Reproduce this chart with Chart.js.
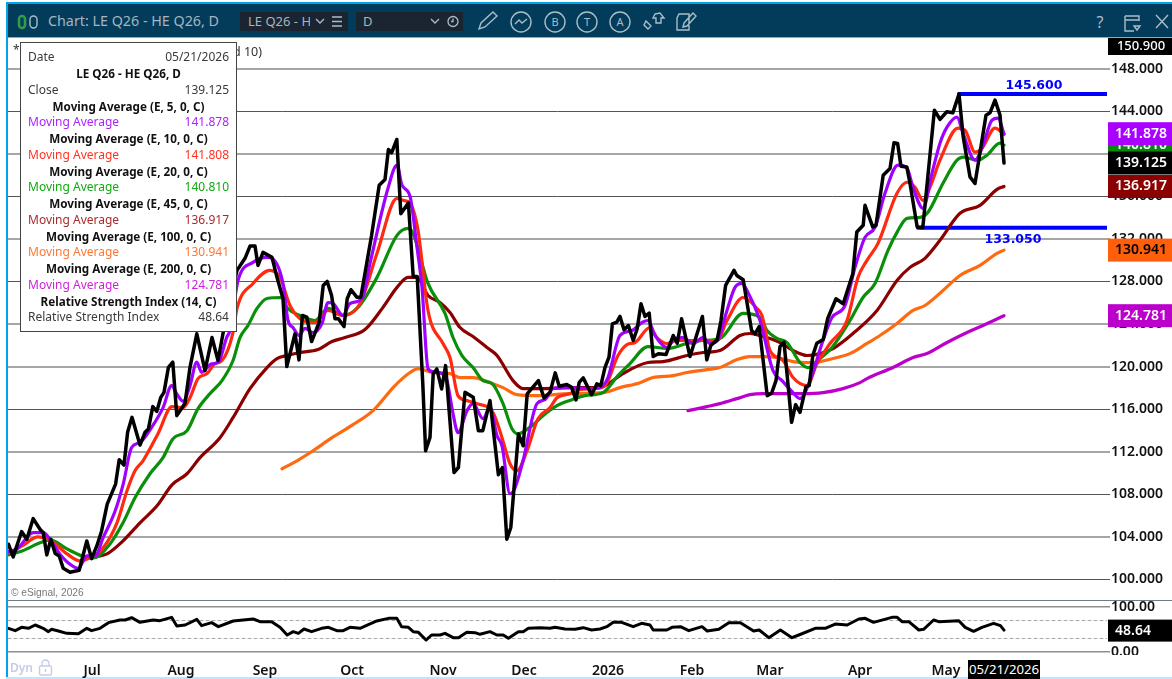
<!DOCTYPE html>
<html>
<head>
<meta charset="utf-8">
<title>LE Q26 - HE Q26, D</title>
<script src="https://cdn.jsdelivr.net/npm/chart.js"></script>
<style>
html, body { margin: 0; padding: 0; width: 1172px; height: 679px; overflow: hidden; background: #fff; font-family: "Noto Sans", sans-serif; }
div, canvas, svg { position: absolute; }
#topline { left: 6px; top: 2px; width: 1166px; height: 2px; background: #00a2e8; }
#leftline { left: 6px; top: 2px; width: 2px; height: 677px; background: #00a2e8; }
#bottomline { left: 6px; top: 677px; width: 1166px; height: 2px; background: #bfe6fa; }
#header { left: 8px; top: 4px; width: 1164px; height: 33px; background: #023c5a; }
#headline { left: 8px; top: 37px; width: 1164px; height: 1px; background: #a0a4a8; }
#title { left: 48px; top: 11px; font-size: 14.3px; line-height: 20px; color: #a6b5c0; white-space: nowrap; }
.drop { top: 12px; height: 19px; background: #1b2531; color: #a6b5c0; font-size: 13px; line-height: 19px; white-space: nowrap; overflow: hidden; }
#main { left: 8px; top: 38px; }
#rsi { left: 8px; top: 595px; }
#sep { left: 8px; top: 600px; width: 1164px; height: 1px; background: #6f7a86; }
#zeroCover { left: 1108px; top: 655px; width: 64px; height: 6px; background: #fff; }
#star { left: 13px; top: 42px; font-size: 12px; line-height: 16px; color: #333; }
#study { right: 910px; top: 44px; font-size: 12.5px; line-height: 16px; color: #333; white-space: nowrap; }
#box { left: 20px; top: 42px; width: 215px; height: 288px; background: #fff; border: 1px solid #444; }
.row { left: 7px; width: 201px; height: 16px; font-size: 12px; line-height: 16px; color: #3a3a3a; white-space: nowrap; }
.row b { position: absolute; left: 0; width: 100%; text-align: center; color: #111; font-weight: 700; font-size: 11.7px; }
.row span { position: absolute; left: 0; }
.row i { position: absolute; right: 0; font-style: normal; }
#esig { left: 11px; top: 586px; font-family: "Liberation Sans", sans-serif; font-size: 10.2px; line-height: 14px; color: #777; white-space: nowrap; }
#dyn { left: 10px; top: 660px; font-size: 12px; line-height: 16px; font-weight: 600; color: #c6cce8; }
#dateTag { left: 968px; top: 660px; width: 72px; height: 19px; background: #000; color: #fff; font-size: 13.2px; line-height: 19px; text-align: center; white-space: nowrap; }
</style>
</head>
<body>
<div id="header"></div>
<div id="headline"></div>
<div id="topline"></div>
<div id="leftline"></div>
<div id="bottomline"></div>
<svg style="left:0;top:0" width="1172" height="38" fill="none" stroke="#a9bdc9" stroke-width="1.4">
  <rect x="19" y="16" width="6" height="12" rx="3" stroke="#2f9e44" stroke-width="2.500"/>
  <rect x="30" y="16" width="7" height="12" rx="3.500"/>
  <path d="M479 29l2-6 12-11 4 4-12 11z"/>
  <circle cx="521" cy="22" r="10"/><path d="M515 24l4-4 3 3 5-4"/>
  <circle cx="555" cy="22" r="10"/><circle cx="587" cy="22" r="10"/><circle cx="620" cy="22" r="10"/>
  <path d="M646 21l5 5-3 3-4-4zM655 14l5-1 4 5-3 0 0 5-5 0 0-5-3 0z"/>
  <path d="M679 14h6l4 0v16h-12v-12zM684 23l9-10 3 3-9 10-4 1z"/>
  <path d="M1125 16h14v5M1125 16v15h9M1125 20h14M1134 26h6l-3 4z"/>
  <path d="M1156 15l12 13M1168 15l-12 13"/>
</svg>
<svg style="left:0;top:0" width="1172" height="38" fill="#a9bdc9" font-family="Noto Sans" font-size="11">
  <text x="555" y="26" text-anchor="middle">B</text>
  <text x="587" y="26" text-anchor="middle">T</text>
  <text x="620" y="26" text-anchor="middle">A</text>
  <text x="1100" y="28" text-anchor="middle" font-size="16">?</text>
</svg>
<div id="title">Chart: LE Q26 - HE Q26, D</div>
<div class="drop" style="left:240px;width:70px;padding-left:8px">LE Q26 - HE</div>
<div class="drop" style="left:310px;width:38px"></div>
<div class="drop" style="left:356px;width:100px;padding-left:7px">D</div>
<svg style="left:0;top:0;z-index:2" width="1172" height="38" fill="none" stroke="#a9bdc9" stroke-width="1.3">
  <path d="M316 19l4 4 4-4M431 19l4 4 4-4M332 17h10M332 21.500h10M332 26h10"/>
  <circle cx="453" cy="21.500" r="5"/><path d="M453 18.500v3h-2"/>
</svg>

<canvas id="main" width="1164" height="563"></canvas>
<canvas id="rsi" width="1164" height="84"></canvas>
<div id="sep"></div>
<div id="zeroCover"></div>
<div id="star">*</div>
<div id="study">Period 10)</div>
<div id="box"></div>
<div id="esig">© eSignal, 2026</div>
<div id="dyn">Dyn</div>
<svg style="left:38px;top:659px" width="15" height="18" fill="none" stroke="#c6cce8" stroke-width="1.4">
  <rect x="1.500" y="7" width="12" height="9" rx="1.500"/><path d="M4 7V4.500a3.500 3.500 0 0 1 7 0V7M7.500 10v3"/>
</svg>
<div id="dateTag">05/21/2026</div>

<script>
var yTicks = [148, 144, 140, 136, 132, 128, 124, 120, 116, 112, 108, 104, 100];
var darkTicks = [144, 136, 128, 116, 108, 100];
var rsiTicks = [100, 0];
var rsiLevels = [70, 30];
var monthBars = [21, 43.25, 64.25, 86, 108.75, 129, 150, 171, 190.5, 213, 234.5];
var monthLabels = ["Jul", "Aug", "Sep", "Oct", "Nov", "Dec", "2026", "Feb", "Mar", "Apr", "May"];

var closeBars = [0.1, 1.3, 3.4, 4.7, 6.3, 8, 8.8, 9.7, 10.7, 11.8, 12.8, 13.8, 15.5, 17.8, 19.7, 20.9, 22.2, 23.4, 24.8, 26.9, 27.8, 29, 29.9, 31, 33, 34.25, 35.1, 36.2, 37.2, 38.2, 39, 40.1, 41.2, 42.2, 44.25, 45.5, 47.2, 49.25, 51, 52.5, 53.75, 55.5, 57.25, 59.25, 60.5, 61.75, 62.5, 63.75, 66, 67.25, 68.75, 69.7, 71.75, 72.75, 73.6, 74.7, 75.9, 77.8, 78.8, 79.8, 80.9, 81.75, 82.6, 84, 84.8, 85.75, 87.2, 88.2, 90.9, 92.8, 94.25, 95.1, 95.9, 97.2, 98.2, 100.1, 101.3, 102.3, 103.7, 104.4, 105.5, 106.3, 107.2, 108.4, 109.4, 111.5, 112.6, 114.25, 116.3, 117.6, 118.7, 120.5, 122.6, 123.6, 124.7, 125.7, 127.6, 128.8, 129.8, 132.6, 134, 135.5, 136.8, 137.8, 139.7, 140.9, 142, 142.8, 143.8, 145.9, 147.2, 148.2, 149.25, 150.25, 151.1, 152.2, 153, 154, 155.1, 156.3, 157.3, 158.25, 159.25, 160.3, 161.3, 162.6, 164.5, 166.3, 167.3, 168.4, 170.5, 173.6, 174.7, 175.7, 177.3, 178.25, 179.4, 181.5, 182.2, 183.8, 185.9, 186.75, 187.8, 189.8, 190.9, 192, 193, 194, 195.9, 196.9, 198, 199.5, 200.3, 201.2, 202.2, 203.8, 204.9, 207, 208.8, 211.2, 212.2, 213.8, 214.25, 216.2, 217, 218.8, 220.5, 221.5, 222.4, 223.25, 224.7, 225.5, 227.3, 228.7, 231.6, 233, 234.7, 236.2, 237.75, 238.8, 240.5, 241.75, 244.5, 245.5, 246.75, 248, 249];
var closeVals = [103.31, 102.12, 104.5, 103.78, 105.72, 104.72, 104.4, 102.31, 103.78, 102.43, 102.21, 101.05, 100.68, 100.87, 103.62, 101.96, 103.15, 104.56, 107.08, 108.96, 111.25, 110.75, 113.82, 115.23, 112.63, 113.82, 114.14, 116.24, 115.79, 117.11, 117.58, 119.93, 120.41, 115.39, 116.55, 119.93, 123.08, 119.62, 122.73, 120.57, 123.11, 126.2, 129.04, 130.17, 131.32, 131.32, 129.5, 130.73, 130.26, 128.38, 126.37, 120, 123.08, 120.63, 124.8, 124.64, 122.35, 124.17, 127.62, 128, 126.68, 124.49, 124.49, 123.76, 126.37, 127.22, 126.52, 126.52, 132.33, 137.04, 137.57, 140.4, 140.08, 141.34, 134.37, 135.37, 128.47, 128.47, 118.37, 112.09, 113.35, 119.31, 119.78, 117.9, 120.09, 110.05, 110.52, 117.58, 117.11, 113.98, 113.98, 116.8, 109.84, 110.52, 103.78, 104.88, 113.67, 112.56, 117.43, 118.68, 117.05, 117.58, 119.41, 118.15, 118.31, 118.05, 116.87, 118.52, 118.94, 117.36, 118.37, 118.21, 119.93, 120.88, 124.02, 124.17, 124.71, 123.45, 123.86, 122.45, 123.55, 125.9, 124.71, 125.02, 120.94, 121.2, 121.13, 122.92, 122.19, 124.49, 120.94, 124.71, 120.63, 121.98, 122.51, 124.33, 127.62, 129.04, 128.56, 128.16, 123.39, 123.08, 123.76, 117.27, 117.49, 118.68, 121.88, 122.29, 114.76, 116.42, 115.7, 118.12, 118.21, 121.04, 122.19, 122.54, 124.49, 126.37, 125.9, 128.72, 132.64, 133.27, 135.15, 133.11, 133.27, 137.98, 138.61, 141.02, 140.96, 138.82, 138.76, 137.2, 133.11, 133.05, 144.09, 143.22, 143.94, 143.84, 145.6, 141.58, 137.82, 137.2, 143.62, 143.84, 145.04, 143.62, 139.125];

var ma5Bars = [0.1, 2.2, 6.3, 8.8, 10.5, 13, 15, 17.6, 19.7, 21.8, 23.8, 26.8, 28.8, 30.9, 33, 35.9, 38.8, 40.9, 42.2, 43.8, 45.5, 47.2, 48.4, 50.9, 52.6, 54.7, 55.5, 57.5, 61.25, 64.75, 66, 68.75, 70, 71.25, 72.75, 74.25, 76.25, 78.5, 80, 81.25, 83.75, 85.5, 88.5, 90.5, 95, 97.25, 98.5, 100.5, 102.25, 103.5, 105, 106.25, 108.5, 109.75, 111.25, 112.5, 114.75, 116.25, 118.75, 120.5, 122.25, 123.5, 125.5, 126.75, 128.75, 132.25, 134.25, 136.25, 139.75, 146.25, 148.75, 150, 153, 156, 158.5, 160, 161.75, 164.75, 166.75, 168.75, 171.25, 173.75, 175.5, 177.5, 179.75, 181.75, 183.5, 184.75, 188, 191.25, 193.5, 196.25, 198, 200.5, 203.75, 206, 209.25, 211.75, 214.25, 216.75, 219.25, 222.5, 224.75, 226.25, 228.75, 231, 233, 234.75, 237.25, 238.75, 241.75, 243.5, 246, 247.5, 249];
var ma5Vals = [102.62, 102.84, 104.4, 104.4, 103.78, 102.37, 101.58, 101.05, 102.21, 102.21, 103.93, 106.45, 108.96, 112.4, 112.88, 114.29, 116.17, 118.21, 117.43, 116.73, 118.21, 120.41, 119.46, 120.25, 120.41, 122.76, 123.39, 128.09, 129.79, 130.26, 130.17, 127.81, 124.33, 123.67, 122.92, 123.58, 123.2, 124.05, 126.02, 125.93, 124.8, 125.93, 126.4, 129.69, 136.75, 138.92, 137.04, 136, 131.2, 127.44, 119.81, 119.53, 119.34, 118.68, 115.58, 113.79, 115.86, 116.52, 115.11, 116.14, 113.51, 112.56, 108.05, 108.61, 111.15, 116.52, 116.89, 117.93, 118.02, 117.93, 118.21, 118.97, 122.92, 123.39, 124.14, 124.33, 122.92, 121.79, 122.64, 122.73, 122.17, 122.73, 122.17, 122.54, 125.27, 127.44, 127.81, 127.15, 124.33, 119.62, 118.68, 117.55, 116.99, 118.68, 122.45, 124.61, 125.74, 129.32, 132.14, 133.08, 136.28, 138.92, 138.64, 136.85, 134.87, 138.17, 140.99, 142.49, 143.44, 141.93, 139.39, 140.52, 143.15, 143.34, 141.878];

var ma10Bars = [0, 3.5, 7.5, 10.5, 14.75, 18, 20.5, 23.75, 27.25, 29.75, 31.75, 33.75, 37.5, 41, 43.75, 45.5, 47.5, 49.75, 51.75, 53.5, 56.25, 57.25, 61.25, 65.5, 68, 70.5, 73.75, 76.75, 80, 83.75, 88, 92.25, 97.25, 98.75, 100.5, 102.5, 105, 108.75, 110.5, 112.5, 114.75, 117.25, 121.25, 123.5, 125.5, 127.25, 129.75, 132.5, 135.5, 137.25, 140.5, 141.75, 146.25, 149.25, 152.5, 154.75, 156.75, 160.5, 162.25, 164.75, 167.25, 170.5, 173.75, 177.25, 179.75, 183.75, 187.25, 188.5, 190.5, 193.75, 196.25, 199.75, 202.25, 205.5, 209.75, 212.5, 214.75, 217.5, 222.25, 224.75, 226.75, 228.75, 230.5, 233, 237.5, 239.25, 241.75, 243.5, 246.75, 249];
var ma10Vals = [102.49, 103.15, 104, 103.72, 102.4, 101.74, 102.02, 102.96, 105.32, 108.33, 110.21, 111.15, 113.69, 116.24, 116.14, 117.08, 118.87, 119.34, 120.28, 120.57, 123.2, 125.46, 127.81, 129.04, 128.38, 125.74, 124.33, 124.14, 125.27, 124.8, 125.93, 130.64, 135.81, 135.62, 135.34, 132.8, 125.27, 122.17, 120.85, 117.27, 116.8, 116.52, 115.67, 113.32, 110.87, 110.21, 112.09, 115.11, 116.14, 117.08, 117.46, 117.74, 117.93, 118.21, 121.04, 122.07, 122.26, 123.67, 122.73, 122.17, 122.45, 122.45, 122.45, 122.45, 124.33, 126.49, 125.46, 124.8, 121.51, 120.57, 118.97, 118.21, 120.28, 122.17, 124.33, 128.38, 129.98, 131.58, 136.28, 137.32, 136.85, 135.62, 136.85, 139.39, 142.4, 142.21, 140.14, 140.52, 142.4, 141.808];

var ma20Bars = [0, 3.5, 8, 10.5, 14.75, 18.5, 21.25, 25.5, 28.75, 31.75, 35.5, 38.75, 41.25, 44.75, 47.5, 50.5, 53.5, 56.25, 58, 60, 62.25, 64.75, 68.5, 69.75, 73, 76.75, 80, 83.75, 87.5, 92.25, 97.25, 100, 101.25, 105, 109.25, 111.25, 113.5, 116.25, 118.75, 121, 123.75, 126, 127.5, 131, 133.75, 137.25, 141, 144.25, 148.75, 152.5, 155.5, 160, 164.75, 169.75, 173.75, 178, 183.75, 188, 189.75, 192.25, 194.75, 198, 200, 203, 206, 210.5, 213.75, 216.75, 220, 222.25, 224.75, 228, 230, 233.75, 237.25, 238.75, 242.5, 244.75, 248, 249];
var ma20Vals = [102.31, 102.68, 103.44, 103.72, 102.87, 102.21, 102.02, 103.34, 105.32, 107.67, 109.93, 111.44, 113.22, 113.98, 116.05, 117.46, 118.68, 120.57, 122.73, 123.86, 125.46, 126.4, 126.49, 125.56, 124.8, 124.33, 125.46, 124.8, 125.56, 128.38, 132.33, 132.99, 132.52, 127.81, 124.99, 122.73, 121.04, 119.91, 118.68, 118.4, 116.52, 114.16, 113.69, 114.45, 115.39, 116.33, 116.89, 117.27, 117.55, 119.15, 120.28, 121.88, 121.7, 122.17, 122.45, 122.64, 124.99, 124.61, 123.39, 122.64, 122.26, 120.38, 119.91, 120.75, 121.79, 124.33, 126.49, 127.81, 130.92, 132.61, 133.93, 134.02, 134.5, 137.23, 139.39, 139.68, 139.39, 139.86, 140.99, 140.81];

var ma45Bars = [21.75, 24.75, 28.75, 33, 37.25, 41, 44.75, 48, 53, 56.25, 60.5, 64.75, 67.25, 69.75, 73, 77.5, 81, 84.25, 89.25, 93.75, 97.25, 100, 102.25, 105, 108, 110.5, 113, 116.25, 119.75, 122.25, 126.25, 128.75, 133.75, 140.5, 148, 150.5, 153.75, 160, 163.75, 169.75, 173.75, 178, 183, 185.5, 188, 193, 196.25, 199.75, 203, 206.25, 211.25, 217.25, 222.25, 225.5, 229.25, 233, 238, 243, 247.25, 249];
var ma45Vals = [102.12, 102.4, 103.62, 105.32, 106.92, 108.89, 109.93, 111.44, 113.32, 115.2, 117.93, 119.91, 120.75, 121.04, 121.32, 121.6, 122.35, 122.73, 123.48, 125.56, 127.44, 128.38, 128.38, 126.68, 126.02, 125.08, 123.67, 122.82, 121.79, 121.04, 118.68, 117.93, 117.93, 118.02, 118.02, 118.49, 119.34, 120.38, 120.47, 121.04, 121.32, 121.51, 122.92, 123.11, 122.92, 122.26, 121.51, 121.04, 121.22, 121.69, 123.11, 125.27, 128.09, 129.32, 130.17, 131.86, 134.4, 135.15, 136.65, 136.917];

var ma100Bars = [68.5, 72.25, 76.25, 81, 86.25, 91.25, 96.75, 100.5, 102.5, 106.25, 110.5, 113, 116.25, 120.5, 123.75, 127.25, 132.25, 140.5, 148.75, 153, 158, 161.25, 166.25, 169.75, 174.75, 178, 182.25, 185.5, 188.75, 192.25, 196.25, 199.75, 203, 207.25, 210.5, 214.75, 218, 222.25, 226.25, 229.25, 233.75, 238, 243, 247.25, 249];
var ma100Vals = [110.4, 111.15, 112.09, 113.32, 114.54, 115.86, 118.21, 119.44, 119.81, 119.44, 119.34, 118.97, 118.97, 118.49, 118.02, 117.36, 117.27, 117.46, 117.55, 118.02, 118.49, 118.97, 119.15, 119.44, 119.72, 119.91, 120.66, 120.94, 120.94, 120.85, 120.47, 120.38, 120.47, 120.85, 121.22, 122.17, 122.92, 124.05, 125.27, 125.74, 127.15, 128.56, 129.51, 130.64, 130.941];

var ma200Bars = [170, 174.75, 178, 182.25, 185.5, 188.75, 194.75, 198.75, 203.75, 208.75, 213, 214.75, 221.25, 226.25, 229.75, 234.75, 239.75, 243.75, 249];
var ma200Vals = [115.86, 116.24, 116.52, 116.99, 117.36, 117.46, 117.46, 117.46, 117.55, 117.93, 118.49, 118.87, 119.91, 120.85, 121.22, 122.26, 123.2, 123.86, 124.781];

var rsiBars = [0.1, 1.8, 3.4, 5.1, 6.8, 8.8, 10.1, 10.9, 12.6, 14.7, 17.6, 19.7, 20.9, 23, 25.1, 28, 29.3, 30.9, 33, 36.3, 38, 40.9, 42.2, 44.3, 47.2, 48.4, 50.9, 52.6, 56.3, 61.3, 63, 65.9, 68, 69.8, 71.3, 72.6, 74, 75.9, 78.4, 80.1, 82.2, 83.8, 85.5, 88, 92.2, 95.1, 97.2, 98.4, 100.1, 101.3, 102.6, 104.5, 105.9, 108, 109.25, 111.3, 112.6, 114.7, 116.75, 118, 120.5, 122.2, 123.8, 125.1, 127.6, 128.8, 130.1, 133, 135.5, 136.75, 139.25, 141.75, 143.8, 145.9, 148, 149.7, 151.3, 153.4, 156.3, 158.4, 160.5, 161.3, 164.7, 166, 168.1, 170.2, 173.5, 174.8, 177.7, 180.2, 183.1, 186.4, 187.8, 190.2, 193.1, 196, 197.7, 201.8, 204.3, 206.8, 209.8, 212.7, 214.3, 216.4, 221, 222.3, 223.5, 225.2, 227.7, 228.9, 231.4, 232.7, 237.7, 239.3, 241.4, 243.5, 246.4, 248.1, 249];
var rsiVals = [52.6, 47.4, 54.8, 52.6, 60, 52.6, 45.2, 50.4, 46.7, 41.5, 40.7, 52.6, 47.4, 52.6, 65.2, 71.1, 71.1, 76.3, 65.9, 71.1, 69.6, 77, 57.8, 60, 72.6, 58.5, 65.2, 56.3, 68.9, 73.3, 67.4, 67.4, 54.8, 37.8, 45.2, 41.5, 51.1, 45.2, 52.6, 54.8, 47.4, 47.4, 54.8, 52.6, 68.9, 74.8, 74.8, 56.3, 54.8, 45.2, 43.7, 26.6, 37.8, 37.8, 41.5, 31.9, 31.9, 43.7, 43, 39.3, 45.2, 37.8, 37.8, 30.4, 45.2, 45.2, 52.6, 54.1, 52.6, 54.8, 51.1, 50.4, 54.1, 48.9, 51.1, 56.3, 65.9, 65.9, 56.3, 63.7, 60, 48.9, 48.9, 54.8, 56.3, 47.4, 56.3, 46.7, 50.4, 65.2, 65.2, 46.7, 48.9, 31.8, 48.9, 31.8, 37.8, 52.6, 52.6, 62.2, 60, 73.3, 74.8, 65.9, 77, 77, 67.4, 67.4, 48.9, 50.4, 71.1, 67.4, 69.6, 54.8, 45.9, 54.8, 63.7, 58.5, 48.64];

var highLevel = 145.6;
var highStartBar = 237.75;
var lowLevel = 133.05;
var lowStartBar = 227.5;
var lastBar = 274.75;

// price tags on the right axis, later ones paint over earlier ones
var tagVals = [140.81, 150.9, 141.878, 139.125, 136.917, 130.941, 124.781];
var tagFill = ["#0a8a0a", "#000000", "#aa00ff", "#000000", "#8b0000", "#ff5f0a", "#bb00cc"];
var tagText = ["#ffffff", "#ffffff", "#ffffff", "#ffffff", "#ffffff", "#000000", "#ffffff"];

var boxRows = [
    ["Date", "05/21/2026", "#3a3a3a"],
    ["LE Q26 - HE Q26, D"],
    ["Close", "139.125", "#3a3a3a"],
    ["Moving Average (E, 5, 0, C)"],
    ["Moving Average", "141.878", "#aa22ff"],
    ["Moving Average (E, 10, 0, C)"],
    ["Moving Average", "141.808", "#ff3322"],
    ["Moving Average (E, 20, 0, C)"],
    ["Moving Average", "140.810", "#11aa11"],
    ["Moving Average (E, 45, 0, C)"],
    ["Moving Average", "136.917", "#aa2a2a"],
    ["Moving Average (E, 100, 0, C)"],
    ["Moving Average", "130.941", "#ff7733"],
    ["Moving Average (E, 200, 0, C)"],
    ["Moving Average", "124.781", "#cc22dd"],
    ["Relative Strength Index (14, C)"],
    ["Relative Strength Index", "48.64", "#3a3a3a"]
];

var box = document.getElementById("box");
boxRows.forEach(function(r, i) {
    var d = document.createElement("div");
    d.className = "row";
    d.style.top = (6 + i * 16.26) + "px";
    if (r.length == 1) {
        d.innerHTML = "<b>" + r[0] + "</b>";
    } else {
        d.innerHTML = "<span>" + r[0] + "</span><i>" + r[1] + "</i>";
        d.style.color = r[2];
    }
    box.appendChild(d);
});

function pts(bars, vals) {
    return bars.map(function(b, i) { return { x: b, y: vals[i] }; });
}

function line(data, color, width, order) {
    return {
        data: data,
        borderColor: color,
        borderWidth: width,
        pointRadius: 0,
        tension: 0,
        borderJoinStyle: "round",
        borderCapStyle: "round",
        order: order
    };
}

// the averages are smooth in the original, so round their corners
function maLine(data, color, order) {
    var ds = line(data, color, 3.2, order);
    ds.cubicInterpolationMode = "monotone";
    return ds;
}

var tickFont = { family: "Noto Sans", size: 14, weight: "600" };

var tagsPlugin = {
    id: "tags",
    afterDraw: function(chart) {
        var c = chart.ctx, y = chart.scales.y, right = chart.chartArea.right;
        c.save();
        c.textAlign = "center";
        c.textBaseline = "middle";
        tagVals.forEach(function(v, i) {
            var py = y.getPixelForValue(v);
            var h = 23, top = py - h / 2;
            if (i == 1) { top = 0; h = 17; py = 8.5; }
            c.fillStyle = tagFill[i];
            c.fillRect(right + 1, top, 64, h);
            c.fillStyle = tagText[i];
            c.font = (i == 1 ? "500 13px" : "600 14px") + " 'Noto Sans'";
            c.fillText(v.toFixed(3), right + 34, py);
        });
        // level labels
        var x = chart.scales.x;
        c.fillStyle = "#0000ff";
        c.font = "bold 12.5px 'DejaVu Sans'";
        c.fillText(highLevel.toFixed(3), x.getPixelForValue(256.5), y.getPixelForValue(highLevel) - 8);
        c.fillText(lowLevel.toFixed(3), x.getPixelForValue(251.25), y.getPixelForValue(lowLevel) + 12);
        c.restore();
    }
};

var mainChart = new Chart(document.getElementById("main"), {
    type: "line",
    data: {
        datasets: [
            line(pts(closeBars, closeVals), "#000000", 3.5, 1),
            maLine(pts(ma5Bars, ma5Vals), "#a000ff", 2),
            maLine(pts(ma10Bars, ma10Vals), "#ff2a10", 3),
            maLine(pts(ma20Bars, ma20Vals), "#0a8f0a", 4),
            maLine(pts(ma45Bars, ma45Vals), "#8b0000", 5),
            maLine(pts(ma100Bars, ma100Vals), "#ff6a10", 6),
            maLine(pts(ma200Bars, ma200Vals), "#bb00cc", 7),
            line(pts([highStartBar, lastBar], [highLevel, highLevel]), "#0000ff", 4, 8),
            line(pts([lowStartBar, lastBar], [lowLevel, lowLevel]), "#0000ff", 4, 8)
        ]
    },
    options: {
        responsive: false,
        animation: false,
        layout: { padding: 0 },
        plugins: { legend: { display: false }, tooltip: { enabled: false } },
        scales: {
            x: { type: "linear", display: false, min: 0, max: lastBar },
            y: {
                position: "right",
                min: 97.976,
                max: 150.87,
                border: { display: false },
                afterBuildTicks: function(axis) {
                    axis.ticks = yTicks.map(function(v) { return { value: v }; });
                },
                afterFit: function(axis) {
                    axis.width = 65;
                    axis.paddingTop = 0;
                    axis.paddingBottom = 0;
                },
                grid: {
                    tickLength: 3,
                    color: function(ctx) { return darkTicks.indexOf(ctx.tick.value) >= 0 ? "#555555" : "#a6a6a6"; },
                    lineWidth: function(ctx) { return darkTicks.indexOf(ctx.tick.value) >= 0 ? 1 : 2; }
                },
                ticks: {
                    color: "#111111",
                    font: tickFont,
                    padding: 1,
                    callback: function(v) { return v.toFixed(3); }
                }
            }
        }
    },
    plugins: [tagsPlugin]
});

var rsiPlugin = {
    id: "rsitag",
    afterDraw: function(chart) {
        var c = chart.ctx, right = chart.chartArea.right;
        var py = chart.scales.y.getPixelForValue(rsiVals[rsiVals.length - 1]);
        c.save();
        c.fillStyle = "#000";
        c.fillRect(right + 1, py - 10.5, 64, 22);
        c.fillStyle = "#fff";
        c.font = "600 14px 'Noto Sans'";
        c.textBaseline = "middle";
        c.fillText(rsiVals[rsiVals.length - 1].toFixed(2), right + 8, py + 1);
        c.restore();
    }
};

var rsiChart = new Chart(document.getElementById("rsi"), {
    type: "line",
    data: {
        datasets: [
            line(pts(rsiBars, rsiVals), "#000000", 3, 1),
            Object.assign(line(pts([0, lastBar], [rsiLevels[0], rsiLevels[0]]), "#a8a8a8", 1, 2), { borderDash: [3, 3] }),
            Object.assign(line(pts([0, lastBar], [rsiLevels[1], rsiLevels[1]]), "#a8a8a8", 1, 2), { borderDash: [3, 3] })
        ]
    },
    options: {
        responsive: false,
        animation: false,
        layout: { padding: { top: 12 } },
        plugins: { legend: { display: false }, tooltip: { enabled: false } },
        scales: {
            x: {
                type: "linear",
                min: 0,
                max: lastBar,
                border: { display: false },
                grid: { display: false },
                afterBuildTicks: function(axis) {
                    axis.ticks = monthBars.map(function(v) { return { value: v }; });
                },
                afterFit: function(axis) {
                    axis.height = 27;
                    axis.paddingLeft = 0;
                    axis.paddingRight = 0;
                },
                ticks: {
                    color: "#111111",
                    font: tickFont,
                    padding: 3,
                    maxRotation: 0,
                    autoSkip: false,
                    callback: function(v, i) { return monthLabels[i]; }
                }
            },
            y: {
                position: "right",
                min: 0,
                max: 100,
                border: { display: false },
                afterBuildTicks: function(axis) {
                    axis.ticks = rsiTicks.map(function(v) { return { value: v }; });
                },
                afterFit: function(axis) {
                    axis.width = 65;
                    axis.paddingTop = 0;
                    axis.paddingBottom = 0;
                },
                grid: { tickLength: 3, color: "#8f8f8f", lineWidth: 1.5 },
                ticks: {
                    color: "#111111",
                    font: tickFont,
                    padding: 1,
                    callback: function(v) { return v.toFixed(2); }
                }
            }
        }
    },
    plugins: [rsiPlugin]
});
</script>
</body>
</html>
